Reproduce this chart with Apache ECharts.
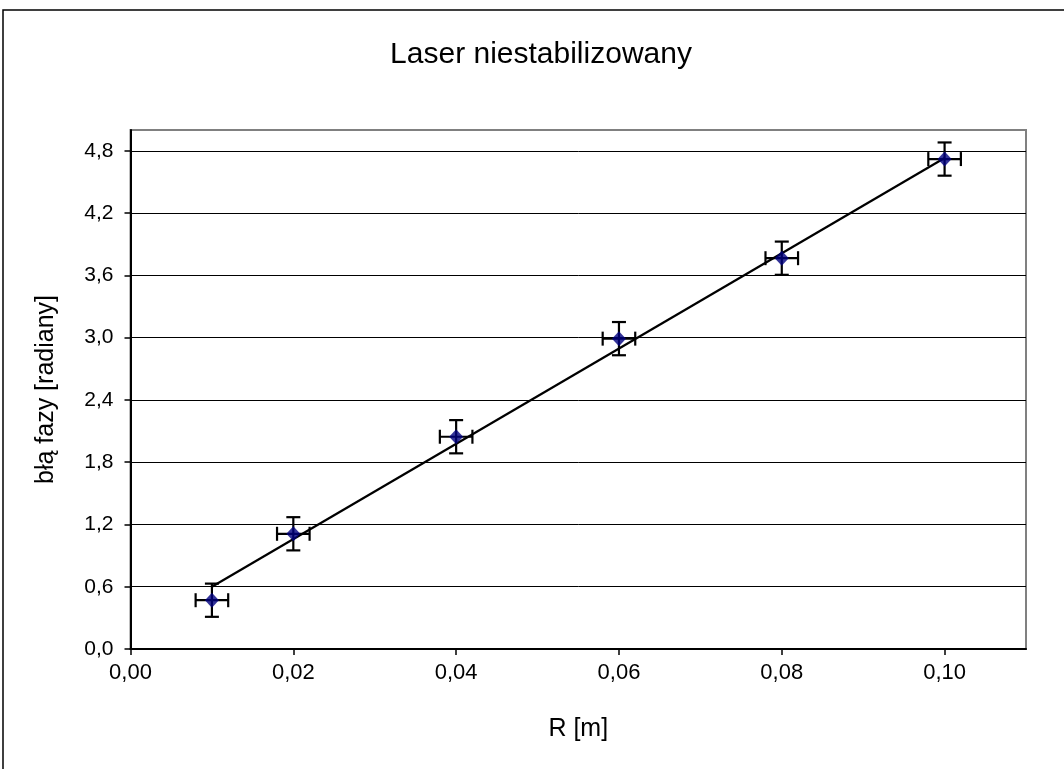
<!DOCTYPE html>
<html>
<head>
<meta charset="utf-8">
<style>
  html, body { margin: 0; padding: 0; background: #fff; }
  #chart { width: 1064px; height: 769px; }
</style>
<script src="https://cdn.jsdelivr.net/npm/echarts@6/dist/echarts.min.js"></script>
</head>
<body>
<div id="chart"></div>
<script>
// Measured points: distance R [m] and phase error [rad]
const rValues = [0.01, 0.02, 0.04, 0.06, 0.08, 0.10];
const phaseValues = [0.47, 1.11, 2.045, 2.99, 3.765, 4.72];
const rErrors = [0.002, 0.002, 0.002, 0.002, 0.002, 0.002];
const phaseErrors = [0.16, 0.16, 0.16, 0.16, 0.16, 0.16];
// Linear trend line end points
const trendR = [0.01, 0.10];
const trendPhase = [0.60, 4.73];

const fmt = (v, d) => v.toFixed(d).replace('.', ',');
const font = 'Liberation Sans, Arial, sans-serif';

const points = rValues.map((r, i) => [r, phaseValues[i]]);
const errData = rValues.map((r, i) => [r, phaseValues[i], rErrors[i], phaseErrors[i]]);
const trendData = trendR.map((r, i) => [r, trendPhase[i]]);

const chart = echarts.init(document.getElementById('chart'), null, { renderer: 'canvas' });

chart.setOption({
  backgroundColor: '#fff',
  animation: false,
  title: {
    text: 'Laser niestabilizowany',
    left: 536, top: 35, textAlign: 'center',
    textStyle: { fontFamily: font, fontSize: 30, fontWeight: 'normal', color: '#000' }
  },
  graphic: [{
    type: 'rect', silent: true, z: -10,
    shape: { x: 3, y: 10, width: 1100, height: 800 },
    style: { fill: 'none', stroke: '#000', lineWidth: 1.5 }
  }],
  grid: {
    left: 130.5, top: 130, right: 38, bottom: 120,
    show: true, borderColor: '#808080', borderWidth: 2, backgroundColor: '#fff'
  },
  xAxis: {
    type: 'value', min: 0, max: 0.11, interval: 0.02,
    name: 'R [m]', nameLocation: 'middle', nameGap: 68,
    nameTextStyle: { fontFamily: font, fontSize: 25, color: '#000' },
    axisLine: { onZero: false, lineStyle: { color: '#000', width: 2 } },
    axisTick: { show: true, length: 6, lineStyle: { color: '#000', width: 1.5 } },
    axisLabel: { fontFamily: font, fontSize: 22, color: '#000', margin: 13,
      showMaxLabel: false, formatter: v => fmt(v, 2) },
    splitLine: { show: false }
  },
  yAxis: {
    type: 'value', min: 0, max: 5.0, interval: 0.6,
    name: 'błą fazy [radiany]', nameLocation: 'middle', nameGap: 72,
    nameTextStyle: { fontFamily: font, fontSize: 25, color: '#000' },
    axisLine: { onZero: false, lineStyle: { color: '#000', width: 2 } },
    axisTick: { show: true, length: 6, lineStyle: { color: '#000', width: 1.5 } },
    axisLabel: { fontFamily: font, fontSize: 21, color: '#000', margin: 17,
      showMaxLabel: false, formatter: v => fmt(v, 1) },
    splitLine: { show: true, showMinLine: false, showMaxLine: false,
      lineStyle: { color: '#000', width: 1 } }
  },
  series: [
    {
      type: 'line', data: trendData, showSymbol: false, z: 3,
      lineStyle: { color: '#000', width: 2.2 }
    },
    {
      type: 'custom', data: errData, z: 4,
      renderItem: function (params, api) {
        const x = api.value(0), y = api.value(1), ex = api.value(2), ey = api.value(3);
        const top = api.coord([x, y + ey]);
        const bot = api.coord([x, y - ey]);
        const lft = api.coord([x - ex, y]);
        const rgt = api.coord([x + ex, y]);
        const cap = 7;
        const style = { stroke: '#000', lineWidth: 2.2 };
        const ln = (x1, y1, x2, y2) => ({ type: 'line', shape: { x1, y1, x2, y2 }, style });
        return {
          type: 'group',
          children: [
            ln(top[0], top[1], bot[0], bot[1]),
            ln(top[0] - cap, top[1], top[0] + cap, top[1]),
            ln(bot[0] - cap, bot[1], bot[0] + cap, bot[1]),
            ln(lft[0], lft[1], rgt[0], rgt[1]),
            ln(lft[0], lft[1] - cap, lft[0], lft[1] + cap),
            ln(rgt[0], rgt[1] - cap, rgt[0], rgt[1] + cap)
          ]
        };
      }
    },
    {
      type: 'scatter', data: points, z: 5,
      symbol: 'diamond', symbolSize: [14, 15],
      itemStyle: { color: '#000080' }
    }
  ]
});
</script>
</body>
</html>
